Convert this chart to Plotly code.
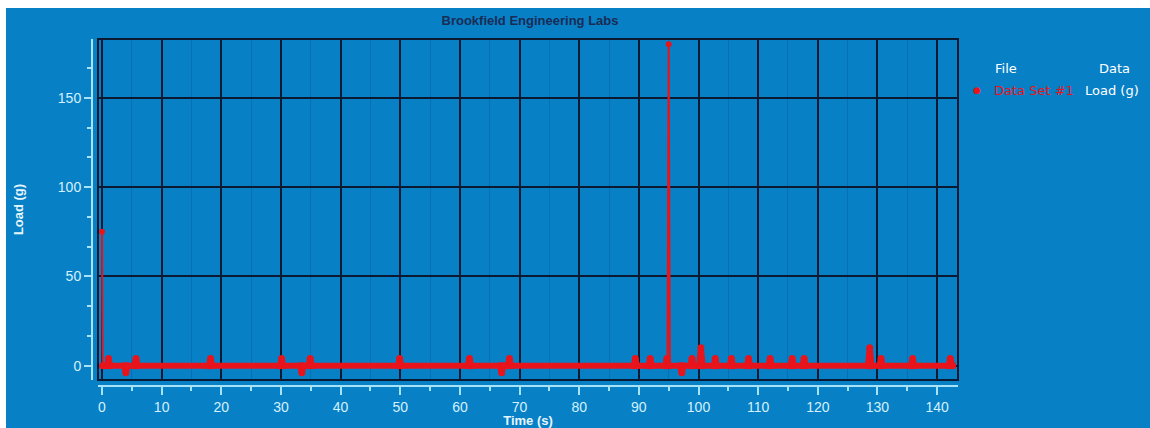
import plotly.graph_objects as go

# ---- data ----
time_s = [0.1, 0.8, 1.1, 1.4, 3.7, 4.0, 4.3, 5.4, 5.7, 6.0, 17.9, 18.2, 18.5,
          29.8, 30.1, 30.4, 33.2, 33.5, 33.8, 34.6, 34.9, 35.2, 49.6, 49.9, 50.2,
          61.3, 61.6, 61.9, 66.7, 67.0, 67.3, 68.0, 68.3, 68.6, 89.1, 89.4, 89.7,
          91.6, 91.9, 92.2, 94.4, 94.7, 95.0, 96.9, 97.2, 97.5, 98.6, 98.9, 99.2,
          100.1, 100.4, 100.7, 102.5, 102.8, 103.1, 105.2, 105.5, 105.8, 108.1,
          108.4, 108.7, 111.7, 112.0, 112.3, 115.4, 115.7, 116.0, 117.4, 117.7,
          118.0, 128.4, 128.7, 129.0, 130.3, 130.6, 130.9, 135.6, 135.9, 136.2,
          141.9, 142.2, 142.6]
load_g = [0, 0, 4, 0, 0, -4, 0, 0, 4, 0, 0, 4, 0,
          0, 4, 0, 0, -4, 0, 0, 4, 0, 0, 4, 0,
          0, 4, 0, 0, -4, 0, 0, 4, 0, 0, 4, 0,
          0, 4, 0, 0, 4, 0, 0, -4, 0, 0, 4, 0,
          0, 10, 0, 0, 4, 0, 0, 4, 0, 0,
          4, 0, 0, 4, 0, 0, 4, 0, 0, 4,
          0, 0, 10, 0, 0, 4, 0, 0, 4, 0,
          0, 4, 0]

spike_time = [0.0, 0.1, None, 94.8, 95.0, 95.2]
spike_load = [75, 0, None, 0, 180, 0]

x_ticks = [0, 10, 20, 30, 40, 50, 60, 70, 80, 90, 100, 110, 120, 130, 140]
y_ticks = [0, 50, 100, 150]

BG = "#0880c6"
RED = "#e8141c"
AX = "#a6e2f8"
TICKC = "#d4f1fc"

fig = go.Figure()
fig.add_trace(go.Scatter(x=time_s, y=load_g, mode="lines+markers",
                         line=dict(color=RED, width=6),
                         marker=dict(color=RED, size=7),
                         showlegend=False, hoverinfo="skip"))
fig.add_trace(go.Scatter(x=spike_time, y=spike_load, mode="lines+markers",
                         line=dict(color=RED, width=2),
                         marker=dict(color=RED, size=6),
                         connectgaps=False,
                         showlegend=False, hoverinfo="skip"))

W, H = 1150, 428
L, R, T, B = 92, 192, 39, 42
pw = W - L - R
ph = H - T - B

fig.update_layout(
    width=W, height=H,
    margin=dict(l=L, r=R, t=T, b=B, pad=0, autoexpand=False),
    paper_bgcolor=BG, plot_bgcolor=BG,
    font=dict(family="Liberation Sans, Arial, sans-serif", color=TICKC, size=13),
    title=dict(text="<b>Brookfield Engineering Labs</b>", x=530 / W, xanchor="center",
               y=1 - 20 / H, yanchor="middle",
               font=dict(size=13, color="#1a2c55")),
    xaxis=dict(domain=[6 / pw, 1], range=[-0.67, 143.5], anchor="free", position=0,
               automargin=False,
               tickmode="array", tickvals=x_ticks, ticktext=[str(v) for v in x_ticks],
               showline=True, linecolor=AX, linewidth=2,
               ticks="outside", ticklen=8, tickcolor=AX, tickwidth=2,
               minor=dict(dtick=5, tick0=0, ticks="outside", ticklen=4, tickcolor=AX,
                          tickwidth=2, showgrid=True, gridcolor="rgba(0,50,110,0.2)",
                          gridwidth=1),
               showgrid=True, gridcolor="#0b1a30", gridwidth=1.5,
               zeroline=False, tickfont=dict(size=14, color=TICKC),
               title=dict(text="<b>Time (s)</b>", standoff=4,
                          font=dict(size=13, color="#e6f6fd"))),
    yaxis=dict(domain=[6 / ph, 1], range=[-8, 183], anchor="free", position=0,
               automargin=False,
               tickmode="array", tickvals=y_ticks, ticktext=[str(v) for v in y_ticks],
               showline=True, linecolor=AX, linewidth=2,
               ticks="outside", ticklen=7, tickcolor=AX, tickwidth=2,
               minor=dict(dtick=50 / 3, tick0=0, ticks="outside", ticklen=4,
                          tickcolor=AX, tickwidth=2, showgrid=False),
               showgrid=True, gridcolor="#0b1a30", gridwidth=1.5,
               zeroline=False, tickfont=dict(size=14, color=TICKC),
               title=dict(text="<b>Load (g)</b>", standoff=30,
                          font=dict(size=13, color="#e6f6fd"))),
)

# plot frame
fig.add_shape(type="rect", xref="x domain", yref="y domain", x0=0, x1=1, y0=0, y1=1,
              line=dict(color="#0b1a30", width=2), layer="above")

# white strips at top and left of the image
def px_x(p):
    return (p - L) / pw

def px_y(p):
    return (H - B - p) / ph

fig.add_shape(type="rect", xref="paper", yref="paper", x0=px_x(0), x1=px_x(W),
              y0=px_y(8), y1=px_y(0), fillcolor="white", line=dict(width=0), layer="above")
fig.add_shape(type="rect", xref="paper", yref="paper", x0=px_x(0), x1=px_x(6),
              y0=px_y(H), y1=px_y(0), fillcolor="white", line=dict(width=0), layer="above")

# legend-like table
legend_font = dict(family="DejaVu Sans, Verdana, sans-serif", size=13)
fig.add_annotation(xref="paper", yref="paper", x=px_x(993), y=px_y(68), text="File",
                   showarrow=False, xanchor="left", yanchor="middle",
                   font=dict(**legend_font, color="white"))
fig.add_annotation(xref="paper", yref="paper", x=px_x(1097), y=px_y(68), text="Data",
                   showarrow=False, xanchor="left", yanchor="middle",
                   font=dict(**legend_font, color="white"))
fig.add_annotation(xref="paper", yref="paper", x=px_x(977), y=px_y(90), text="●",
                   showarrow=False, xanchor="center", yanchor="middle",
                   font=dict(family="DejaVu Sans", size=9, color=RED))
fig.add_annotation(xref="paper", yref="paper", x=px_x(992), y=px_y(90), text="Data Set #1",
                   showarrow=False, xanchor="left", yanchor="middle",
                   font=dict(**legend_font, color=RED))
fig.add_annotation(xref="paper", yref="paper", x=px_x(1083), y=px_y(90), text="Load (g)",
                   showarrow=False, xanchor="left", yanchor="middle",
                   font=dict(**legend_font, color="white"))

fig.write_html("out.html")
